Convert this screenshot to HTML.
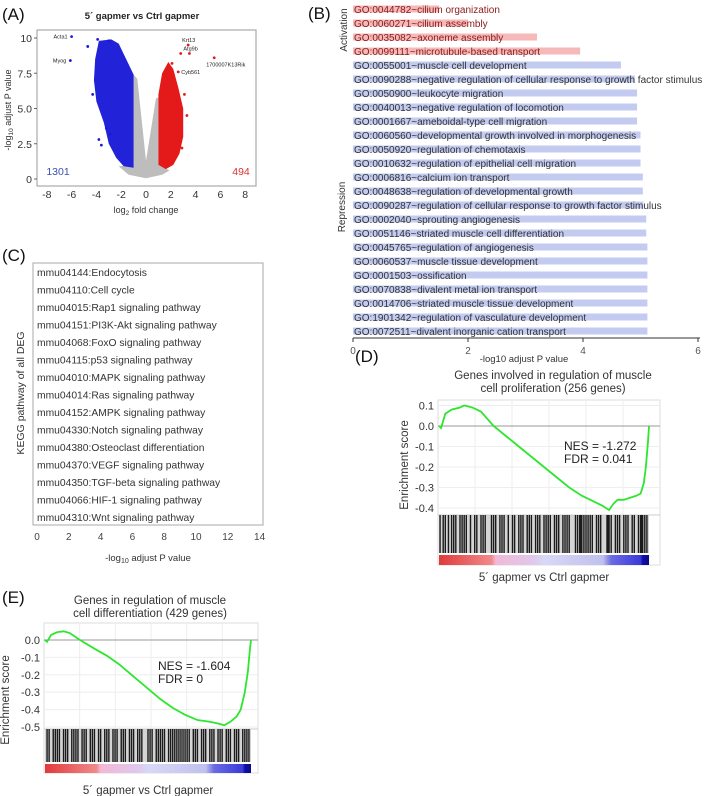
<!DOCTYPE html>
<html><head><meta charset="utf-8"><style>
html,body{margin:0;padding:0;background:#fff;}
svg{display:block;font-family:"Liberation Sans",Arial,sans-serif;}
</style></head><body>
<svg id="fig" width="709" height="796" viewBox="0 0 709 796" xmlns="http://www.w3.org/2000/svg"></svg>
<script>
// ---------- Panel A data (volcano) ----------
const volcanoLabels = ["Acta1","Myog","Krt13","Atg9b","1700007K13Rik","Cyb561"];
const volcanoLabelFC = [-6.0,-6.1,3.4,3.5,5.5,2.6];
const volcanoLabelP = [10.1,8.4,9.5,8.9,8.6,7.6];
const blueOutFC = [-4.7,-3.8,-3.6,-3.9,-3.0,-2.9,-4.3,-3.2];
const blueOutP = [9.4,2.8,2.4,9.9,9.8,3.2,6.0,3.6];
const redOutFC = [2.8,2.1,2.2,3.1,3.3,2.9];
const redOutP = [8.9,8.2,7.4,6.0,4.5,2.2];
const blueEnvFC = [-1.0,-1.0,-1.6,-2.2,-2.8,-3.8,-4.1,-4.2,-4.0,-3.4,-3.0,-2.4,-1.8,-1.0];
const blueEnvP = [0.8,7.4,8.5,9.6,9.9,9.8,8.5,7.0,5.5,4.0,2.5,1.5,0.9,0.8];
const redEnvFC = [1.0,1.0,1.3,1.8,2.2,2.6,3.0,3.0,2.7,2.2,1.6,1.0];
const redEnvP = [1.0,6.0,7.5,8.3,7.8,6.5,5.0,3.0,1.8,1.0,0.7,1.0];
const grayEnvFC = [0.0,-1.4,-2.2,-1.0,-1.0,-0.7,0.0,0.8,1.0,1.0,1.9,1.3,0.0];
const grayEnvP = [0.05,0.3,0.9,1.0,7.4,7.1,1.3,5.7,5.8,1.0,0.6,0.3,0.05];
const volXTicks = [-8,-6,-4,-2,0,2,4,6,8];
const volYTicks = [0,2.5,5,7.5,10];
const volYTickLabels = ["0","2.5","5.0","7.5","10"];

// ---------- Panel B data (GO) ----------
const goTerms = ["GO:0044782~cilium organization","GO:0060271~cilium assembly","GO:0035082~axoneme assembly","GO:0099111~microtubule-based transport","GO:0055001~muscle cell development","GO:0090288~negative regulation of cellular response to growth factor stimulus","GO:0050900~leukocyte migration","GO:0040013~negative regulation of locomotion","GO:0001667~ameboidal-type cell migration","GO:0060560~developmental growth involved in morphogenesis","GO:0050920~regulation of chemotaxis","GO:0010632~regulation of epithelial cell migration","GO:0006816~calcium ion transport","GO:0048638~regulation of developmental growth","GO:0090287~regulation of cellular response to growth factor stimulus","GO:0002040~sprouting angiogenesis","GO:0051146~striated muscle cell differentiation","GO:0045765~regulation of angiogenesis","GO:0060537~muscle tissue development","GO:0001503~ossification","GO:0070838~divalent metal ion transport","GO:0014706~striated muscle tissue development","GO:1901342~regulation of vasculature development","GO:0072511~divalent inorganic cation transport"];
const goValues = [1.5,2.0,3.2,3.95,4.66,4.9,4.94,4.94,4.94,5.0,5.0,5.0,5.04,5.04,5.05,5.1,5.1,5.12,5.12,5.12,5.12,5.12,5.12,5.12];
const goActivation = [1,1,1,1,0,0,0,0,0,0,0,0,0,0,0,0,0,0,0,0,0,0,0,0];
const goTicks = [0,2,4,6];

// ---------- Panel C data (KEGG) ----------
const keggTerms = ["mmu04144:Endocytosis","mmu04110:Cell cycle","mmu04015:Rap1 signaling pathway","mmu04151:PI3K-Akt signaling pathway","mmu04068:FoxO signaling pathway","mmu04115:p53 signaling pathway","mmu04010:MAPK signaling pathway","mmu04014:Ras signaling pathway","mmu04152:AMPK signaling pathway","mmu04330:Notch signaling pathway","mmu04380:Osteoclast differentiation","mmu04370:VEGF signaling pathway","mmu04350:TGF-beta signaling pathway","mmu04066:HIF-1 signaling pathway","mmu04310:Wnt signaling pathway"];
const keggTicks = [0,2,4,6,8,10,12,14];

// ---------- Panel D data (GSEA) ----------
const dRank = [0,0.01,0.03,0.06,0.1,0.12,0.16,0.2,0.26,0.32,0.38,0.44,0.5,0.56,0.62,0.68,0.74,0.78,0.81,0.83,0.85,0.88,0.91,0.94,0.96,0.975,0.985,0.995,1.0];
const dES = [0,-0.01,0.06,0.08,0.09,0.1,0.09,0.07,0.0,-0.05,-0.1,-0.15,-0.2,-0.25,-0.3,-0.34,-0.37,-0.39,-0.41,-0.38,-0.36,-0.36,-0.35,-0.34,-0.33,-0.28,-0.2,-0.08,0.0];
const dHits = [0.005,0.02,0.03,0.045,0.06,0.07,0.08,0.1,0.11,0.12,0.13,0.15,0.17,0.18,0.2,0.21,0.22,0.25,0.26,0.27,0.29,0.3,0.31,0.33,0.35,0.36,0.38,0.39,0.4,0.42,0.43,0.44,0.46,0.47,0.48,0.5,0.51,0.52,0.53,0.55,0.56,0.57,0.59,0.6,0.61,0.62,0.65,0.66,0.67,0.675,0.68,0.69,0.7,0.71,0.72,0.73,0.75,0.76,0.77,0.8,0.805,0.81,0.82,0.84,0.85,0.86,0.88,0.89,0.9,0.92,0.93,0.95,0.96,0.965,0.97,0.98,0.99];
const dYTicks = [0.1,0,-0.1,-0.2,-0.3,-0.4];
const dYTickLabels = ["0.1","0.0","-0.1","-0.2","-0.3","-0.4"];

// ---------- Panel E data (GSEA) ----------
const eRank = [0,0.01,0.03,0.06,0.09,0.12,0.17,0.24,0.3,0.36,0.43,0.5,0.56,0.62,0.68,0.74,0.8,0.84,0.87,0.9,0.93,0.95,0.97,0.985,0.995,1.0];
const eES = [0,-0.01,0.03,0.045,0.05,0.04,0.0,-0.05,-0.09,-0.14,-0.21,-0.28,-0.34,-0.39,-0.43,-0.46,-0.47,-0.48,-0.49,-0.47,-0.44,-0.4,-0.3,-0.18,-0.05,0.0];
const eHits = [0.01,0.02,0.04,0.05,0.06,0.07,0.09,0.1,0.11,0.13,0.14,0.15,0.16,0.18,0.19,0.2,0.22,0.23,0.24,0.26,0.27,0.29,0.3,0.31,0.33,0.34,0.35,0.37,0.38,0.39,0.41,0.42,0.43,0.45,0.46,0.47,0.5,0.51,0.52,0.54,0.55,0.56,0.57,0.58,0.6,0.61,0.62,0.63,0.64,0.65,0.66,0.67,0.68,0.69,0.7,0.72,0.73,0.74,0.76,0.77,0.78,0.8,0.81,0.82,0.84,0.85,0.86,0.88,0.89,0.9,0.92,0.93,0.94,0.96,0.97,0.98,0.99];
const eYTicks = [0,-0.1,-0.2,-0.3,-0.4,-0.5];
const eYTickLabels = ["0.0","-0.1","-0.2","-0.3","-0.4","-0.5"];

const NS = "http://www.w3.org/2000/svg";
const svg = document.getElementById("fig");
function mk(tag, attrs, parent) {
  const el = document.createElementNS(NS, tag);
  for (const k in attrs) el.setAttribute(k, attrs[k]);
  (parent || svg).appendChild(el);
  return el;
}
function txt(s, x, y, size, fill, anchor, extra) {
  const t = mk("text", Object.assign({x:x, y:y, "font-size":size, fill:fill||"#222", "text-anchor":anchor||"start"}, extra||{}));
  t.textContent = s;
  return t;
}
let el;

// ===== Panel A =====
const xA = v => 146 + v*12.4;
const yA = v => 179 - v*14.1;
el = txt("(A)", 2, 20, 17, "#111");


el = txt("5´ gapmer vs Ctrl gapmer", 142, 19, 9.5, "#222", "middle", {"font-weight":"bold"});


el = mk("rect", {x:37, y:30, width:219, height:156, fill:"#fff", stroke:"#999", "stroke-width":1});


function poly(fcs, ps, fill, name) {
  const pts = fcs.map((f,i)=>xA(f)+","+yA(ps[i])).join(" ");
  const p = mk("polygon", {points:pts, fill:fill});
  
  
}
poly(grayEnvFC, grayEnvP, "#bdbdbd", "nonsignificant-cloud");
poly(blueEnvFC, blueEnvP, "#2222d8", "down-regulated-cloud");
poly(redEnvFC, redEnvP, "#e41a1a", "up-regulated-cloud");
blueOutFC.forEach((f,i)=>{
  const c = mk("circle", {cx:xA(f), cy:yA(blueOutP[i]), r:1.4, fill:"#1a1ad6"});
  
  
});
redOutFC.forEach((f,i)=>{
  const c = mk("circle", {cx:xA(f), cy:yA(redOutP[i]), r:1.4, fill:"#e41a1a"});
  
  
});
volcanoLabels.forEach((lab,i)=>{
  const f = volcanoLabelFC[i];
  const c = mk("circle", {cx:xA(f), cy:yA(volcanoLabelP[i]), r:1.4, fill: f<0 ? "#1a1ad6" : "#e41a1a"});
  
  
  let tx = f<0 ? xA(f)-4 : xA(f)+(lab==="1700007K13Rik"? -8 : -6);
  let ty = yA(volcanoLabelP[i]) + (f<0 ? 2 : -3);
  let anchor = f<0 ? "end" : "start";
  if (lab==="Cyb561") { tx = xA(f)+3; ty = yA(volcanoLabelP[i])+2; }
  if (lab==="1700007K13Rik") { ty = yA(volcanoLabelP[i])+9; }
  const t = txt(lab, tx, ty, 5.5, "#222", anchor);
  
  
});
volXTicks.forEach(v=>{
  const t = txt(String(v), xA(v), 198, 10.5, "#333", "middle");
  
  
});
volYTicks.forEach((v,i)=>{
  const t = txt(volYTickLabels[i], 32, yA(v)+4, 10.5, "#333", "end");
  
  
  const l = mk("line", {x1:34, x2:37, y1:yA(v), y2:yA(v), stroke:"#666"});
  
  
});
el = txt("1301", 58, 175, 10.5, "#3b4fb8", "middle");


el = txt("494", 241, 175, 10.5, "#e03030", "middle");


el = mk("text", {x:146, y:213, "font-size":9, fill:"#333", "text-anchor":"middle"});
el.innerHTML = 'log<tspan font-size="6.5" dy="2">2</tspan><tspan dy="-2"> fold change</tspan>';


el = mk("text", {x:0, y:0, "font-size":9, fill:"#333", "text-anchor":"middle", transform:"translate(11,110) rotate(-90)"});
el.innerHTML = '-log<tspan font-size="6.5" dy="2">10</tspan><tspan dy="-2"> adjust P value</tspan>';



// ===== Panel B =====
const xB = v => 353 + v*57.5;
const yB = i => 9 + i*14;
el = txt("(B)", 308, 19, 17, "#111");


goTerms.forEach((term,i)=>{
  const act = goActivation[i]===1;
  const r = mk("rect", {x:353, y:yB(i)-3.5, width:xB(goValues[i])-353, height:7, fill: act ? "#f5b9b9" : "#c3cbf1"});
  
  
  const t = txt(term, 354, yB(i)+4, 10, act ? "#8b1a1a" : "#333");
  
  
});
el = mk("line", {x1:353, x2:700, y1:338, y2:338, stroke:"#333"});


goTicks.forEach(v=>{
  const l = mk("line", {x1:xB(v), x2:xB(v), y1:338, y2:342, stroke:"#333"});
  
  
  const t = txt(String(v), xB(v), 354, 10, "#555", "middle");
  
  
});
el = txt("-log10 adjust P value", 524, 362, 9.5, "#333", "middle");


el = txt("Activation", 0, 0, 10, "#333", "middle", {transform:"translate(347,30) rotate(-90)"});


el = txt("Repression", 0, 0, 10, "#333", "middle", {transform:"translate(345,207) rotate(-90)"});



// ===== Panel C =====
const xC = v => 37 + v*15.9;
el = txt("(C)", 2, 261, 17, "#111");


el = mk("rect", {x:33, y:263, width:230, height:262, fill:"#fff", stroke:"#aaa"});


keggTerms.forEach((term,i)=>{
  const t = txt(term, 37, 276 + i*17.5, 10.3, "#333");
  
  
});
keggTicks.forEach(v=>{
  const t = txt(String(v), xC(v), 540, 10, "#444", "middle");
  
  
});
el = mk("text", {x:148, y:561, "font-size":9.5, fill:"#333", "text-anchor":"middle"});
el.innerHTML = '-log<tspan font-size="7" dy="2">10</tspan><tspan dy="-2"> adjust P value</tspan>';


el = txt("KEGG pathway of all DEG", 0, 0, 10.5, "#333", "middle", {transform:"translate(24,393) rotate(-90)"});



// ===== GSEA panel builder =====
function gsea(o) {
  const xs = r => o.cx0 + r*(o.cx1 - o.cx0);
  const ys = v => o.y0 - v*o.k;
  let e;
  e = mk("rect", {x:o.bx, y:o.top, width:o.bw, height:o.bandBot - o.top, fill:"#fff", stroke:"#ddd"});
  
  
  for (let g=1; g<6; g++) {
    const gx = o.bx + g*o.bw/6;
    e = mk("line", {x1:gx, x2:gx, y1:o.top, y2:o.curveBot, stroke:"#eee"});
    
    
  }
  o.yTicks.forEach((v,i)=>{
    e = mk("line", {x1:o.bx, x2:o.bx+o.bw, y1:ys(v), y2:ys(v), stroke: v===0 ? "#999" : "#eee"});
    
    
    e = txt(o.yTickLabels[i], o.bx-4, ys(v)+4, 11, "#333", "end");
    
    
  });
  e = mk("rect", {x:o.cx0, y:o.curveBot, width:o.cx1-o.cx0, height:o.bandTop-o.curveBot-2, fill:"#d4d4d4"});
  
  
  e = mk("line", {x1:o.bx, x2:o.bx+o.bw, y1:o.curveBot, y2:o.curveBot, stroke:"#ccc"});
  
  
  o.hits.forEach(h=>{
    e = mk("line", {x1:xs(h), x2:xs(h), y1:o.curveBot, y2:o.bandTop-2, stroke:"#1a1a1a", "stroke-width":1.4});
    
    
  });
  e = mk("rect", {x:o.cx0, y:o.bandTop, width:o.cx1-o.cx0, height:o.bandBot-o.bandTop, fill:"url(#rankGrad)"});
  
  
  const pts = o.rank.map((r,i)=>xs(r)+","+ys(o.es[i])).join(" ");
  e = mk("polyline", {points:pts, fill:"none", stroke:"#2ee62e", "stroke-width":1.8});
  
  
  e = txt(o.t1, o.tx, o.ty, 11.5, "#333", "middle");
  
  
  e = txt(o.t2, o.tx, o.ty+13, 11.5, "#333", "middle");
  
  
  e = txt(o.nes, o.nx, o.ny, 12, "#222");
  
  
  e = txt(o.fdr, o.nx, o.ny+13, 12, "#222");
  
  
  e = txt("5´ gapmer vs Ctrl gapmer", (o.cx0+o.cx1)/2, o.xly, 11.5, "#333", "middle");
  
  
  e = txt("Enrichment score", 0, 0, 11.5, "#333", "middle", {transform:"translate("+o.ylx+","+o.yly+") rotate(-90)"});
  
  
}
const defs = mk("defs", {});
const grad = mk("linearGradient", {id:"rankGrad", x1:"0", x2:"1", y1:"0", y2:"0"}, defs);
[["0","#e23a3a"],["0.25","#f08a8a"],["0.27","#f2b8d6"],["0.45","#e0c8ec"],["0.5","#d8d8f6"],["0.78","#c0c0ee"],["0.82","#6b6be6"],["0.96","#3a3ad8"],["0.97","#1010a0"],["1","#0a0a90"]].forEach(s=>{
  mk("stop", {offset:s[0], "stop-color":s[1]}, grad);
});

el = txt("(D)", 355, 362, 17, "#111");


gsea({p:"gsea-d", bx:438, bw:222, top:400, cx0:439, cx1:649, y0:426, k:205, curveBot:515, bandTop:555, bandBot:565,
  yTicks:dYTicks, yTickLabels:dYTickLabels, rank:dRank, es:dES, hits:dHits,
  t1:"Genes involved in regulation of muscle", t2:"cell proliferation (256 genes)", tx:553, ty:379,
  nes:"NES = -1.272", fdr:"FDR = 0.041", nx:564, ny:450, xly:581, ylx:408, yly:465});

el = txt("(E)", 2, 603, 17, "#111");


gsea({p:"gsea-e", bx:44, bw:214, top:623, cx0:45, cx1:251, y0:640, k:174, curveBot:729, bandTop:764, bandBot:773,
  yTicks:eYTicks, yTickLabels:eYTickLabels, rank:eRank, es:eES, hits:eHits,
  t1:"Genes in regulation of muscle", t2:"cell differentiation (429 genes)", tx:150, ty:604,
  nes:"NES = -1.604", fdr:"FDR = 0", nx:158, ny:670, xly:794, ylx:9, yly:700});
</script>
</body></html>
